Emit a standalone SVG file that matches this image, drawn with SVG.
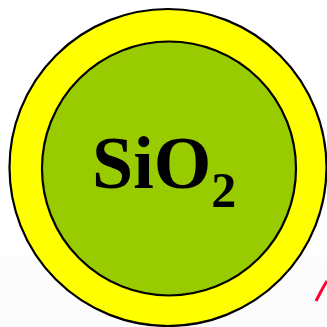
<svg xmlns="http://www.w3.org/2000/svg" width="327" height="327" viewBox="0 0 327 327">
<style>
.ring{stroke:#000;stroke-width:2.2}
.lbl{font-family:"Liberation Serif","Times New Roman",serif;font-weight:bold;fill:#000}
</style>
<rect width="327" height="327" fill="#fff"/>
<rect y="257" width="327" height="70" fill="#fcfcfc"/>
<path d="M316,301 Q322,289 327,281" fill="none" stroke="#ff0033" stroke-width="3"/>
<g id="shell">
<circle class="ring" cx="168" cy="167.5" r="158.5" fill="#ffff00"/>
</g>
<g id="core">
<circle class="ring" cx="169" cy="168.5" r="127" fill="#99cc00"/>
<text class="lbl" x="92" y="188" font-size="74">SiO<tspan font-size="50" dy="19">2</tspan></text>
</g>
</svg>
